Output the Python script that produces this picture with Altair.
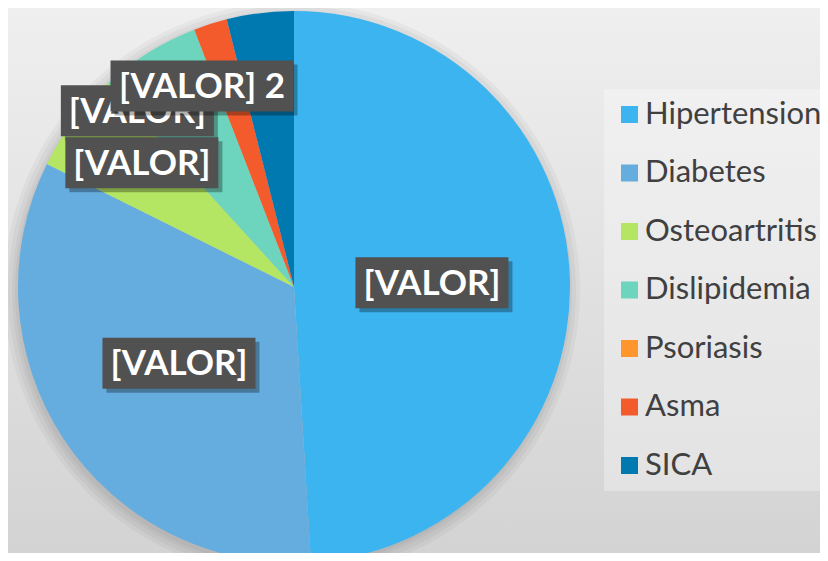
import altair as alt
import pandas as pd

# ---- data ----
categories = ["Hipertension", "Diabetes", "Osteoartritis", "Dislipidemia", "Psoriasis", "Asma", "SICA"]
values = [25, 17, 3, 3, 0, 1, 2]
colors = ["#3cb4f0", "#66addf", "#b4e664", "#6dd5be", "#ff952d", "#f45b2c", "#0079b1"]
label_texts = ["[VALOR]", "[VALOR]", "[VALOR]", "[VALOR]", "", "", "[VALOR] 2"]

df = pd.DataFrame({"cat": categories, "value": values, "idx": list(range(len(categories))),
                   "label": label_texts})

# ---- layout ----
W, H = 812, 545
CX, CY, R = 286, 279, 276
FONT = "Lato"
BH = 51

xs = alt.Scale(domain=[-1, 1], range=[CX - R, CX + R], nice=False, zero=False)
ys = alt.Scale(domain=[-1, 1], range=[CY + R, CY - R], nice=False, zero=False)

xc = alt.X(datum=0, type="quantitative", scale=xs, axis=None)
yc = alt.Y(datum=0, type="quantitative", scale=ys, axis=None)

grad = alt.LinearGradient(gradient="linear",
                          stops=[alt.GradientStop(color="#efefef", offset=0),
                                 alt.GradientStop(color="#d3d3d3", offset=1)],
                          x1=0, x2=0, y1=0, y2=1)

bg = alt.Chart(pd.DataFrame({"bg": [0]})).mark_rect(fill=grad, strokeWidth=0).encode(
    x=alt.value(0), x2=alt.value(W), y=alt.value(0), y2=alt.value(H))

shadows = [
    alt.Chart().mark_arc(outerRadius=R + rr, color="black", opacity=0.035,
                         xOffset=-2, yOffset=3).encode(
        x=xc, y=yc, theta=alt.Theta("value:Q", stack=True), order=alt.Order("idx:Q"))
    for rr in (1, 4, 8, 12)
]

pie = alt.Chart().mark_arc(outerRadius=R).encode(
    x=xc, y=yc,
    theta=alt.Theta("value:Q", stack=True),
    order=alt.Order("idx:Q"),
    color=alt.Color("cat:N", sort=categories,
                    scale=alt.Scale(domain=categories, range=colors),
                    legend=alt.Legend(title=None, orient="none", legendX=596, legendY=81,
                                      symbolType="square", symbolSize=289, symbolStrokeWidth=0,
                                      labelFont=FONT, labelFontSize=31, labelColor="#404040",
                                      labelLimit=400,
                                      rowPadding=26.5, padding=10, labelOffset=0,
                                      fillColor="rgba(255,255,255,0.3)")),
)

base = (alt.Chart()
        .transform_joinaggregate(total="sum(value)")
        .transform_window(cum="sum(value)", sort=[alt.SortField("idx")], frame=[None, 0])
        .transform_calculate(mid="2*PI*(datum.cum - datum.value/2)/datum.total")
        .transform_calculate(lx="0.5*sin(datum.mid)", ly="0.5*cos(datum.mid)"))


def label(cat, bw, dx, dy):
    b = base.transform_filter(alt.datum.cat == cat)
    enc = dict(x=alt.X("lx:Q", scale=xs, axis=None), y=alt.Y("ly:Q", scale=ys, axis=None),
               x2="lx:Q", y2="ly:Q")
    sh = b.mark_rect(color="black", opacity=0.3,
                     xOffset=dx - bw / 2 + 4, x2Offset=dx + bw / 2 + 4,
                     yOffset=dy - BH / 2 + 4, y2Offset=dy + BH / 2 + 4).encode(**enc)
    box = b.mark_rect(color="#515151",
                      xOffset=dx - bw / 2, x2Offset=dx + bw / 2,
                      yOffset=dy - BH / 2, y2Offset=dy + BH / 2).encode(**enc)
    txt = b.mark_text(dx=dx, dy=dy + 1, align="center", baseline="middle", font=FONT,
                      fontSize=35, fontWeight="bold", color="white").encode(
        x=alt.X("lx:Q", scale=xs, axis=None), y=alt.Y("ly:Q", scale=ys, axis=None),
        text="label:N")
    return [sh, box, txt]


labels = []
labels += label("Hipertension", 153, 0, 0)
labels += label("Diabetes", 153, 0, 0)
labels += label("Dislipidemia", 153, -84, -59)
labels += label("Osteoartritis", 153, -42, -41)
labels += label("SICA", 183, -75, -64)

chart = (alt.layer(bg, *shadows, pie, *labels, data=df)
         .properties(width=W, height=H, autosize=alt.AutoSizeParams(type="none"), padding=0,
                     background="#e2e2e2")
         .configure_view(stroke=None))

chart.save("out.html", embed_options={"renderer": "svg", "actions": False})
